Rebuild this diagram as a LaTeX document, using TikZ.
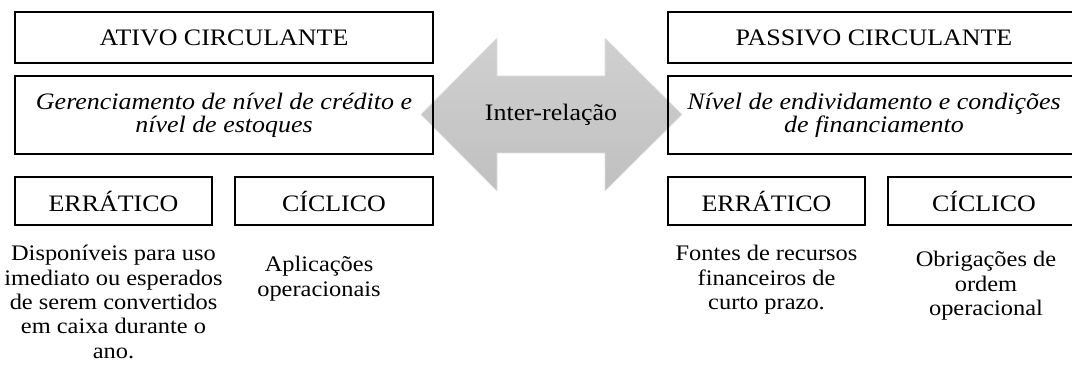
\documentclass[tikz,border=0pt]{standalone}
\usepackage{fontspec}
\setmainfont[FakeStretch=1.1]{Liberation Serif}
\usetikzlibrary{positioning}
\definecolor{setatopo}{RGB}{208,208,208}
\definecolor{setabase}{RGB}{192,192,192}

\begin{document}
\begin{tikzpicture}[x=0.5pt, y=-0.5pt,
    every node/.style = {font=\fontsize{11.8}{12.15}\selectfont},
    italico/.style = {font=\fontsize{11.8}{11.5}\selectfont\itshape},
    corpo/.style = {font=\fontsize{11.1}{12.15}\selectfont},
    titulo/.style = {draw, line width=1pt, minimum height=25.5pt, inner sep=0pt},
    caixa/.style = {draw, line width=0.7pt, minimum height=39pt, inner sep=0pt, align=center},
    tipo/.style = {draw, line width=0.7pt, minimum height=24pt, inner sep=0pt},
    texto/.style = {corpo, align=center, anchor=north, inner sep=0pt}]

    \useasboundingbox (0,0) rectangle (1072,369);
    \clip (0,0) rectangle (1072,369);

    % seta dupla
    \shade[top color=setatopo, bottom color=setabase, draw=black!12, line width=0.3pt]
        (421,114.5) -- (497,38) -- (497,76) -- (605,76) -- (605,38) -- (682,114.5)
        -- (605,191) -- (605,153) -- (497,153) -- (497,191) -- cycle;
    \node (inter) at (551,115) {Inter-relação};

    % ativo
    \node[titulo, minimum width=209pt] (ativo) at (224,37.5) {ATIVO CIRCULANTE};
    \node[caixa, italico, minimum width=209pt] (gerencia) at (224,115)
        {Gerenciamento de nível de crédito e\\nível de estoques};
    \node[tipo, minimum width=98.5pt] (errAt) at (113.5,201) {ERRÁTICO};
    \node[tipo, minimum width=99pt] (cicAt) at (334,201) {CÍCLICO};
    \node[texto] (dispon) at (113.5,245)
        {Disponíveis para uso\\imediato ou esperados\\de serem convertidos\\em caixa durante o\\ano.};
    \node[texto] (aplic) at (319,256) {Aplicações\\operacionais};

    % passivo
    \node[titulo, minimum width=206pt] (passivo) at (874,37.5) {PASSIVO CIRCULANTE};
    \node[caixa, italico, minimum width=206pt] (nivel) at (874,115)
        {Nível de endividamento e condições\\de financiamento};
    \node[tipo, minimum width=98.5pt] (errPa) at (766.5,201) {ERRÁTICO};
    \node[tipo, minimum width=96pt] (cicPa) at (984,201) {CÍCLICO};
    \node[texto] (fontes) at (766.5,245)
        {Fontes de recursos\\financeiros de\\curto prazo.};
    \node[texto] (obrig) at (986,251) {Obrigações de\\ordem\\operacional};

\end{tikzpicture}
\end{document}
